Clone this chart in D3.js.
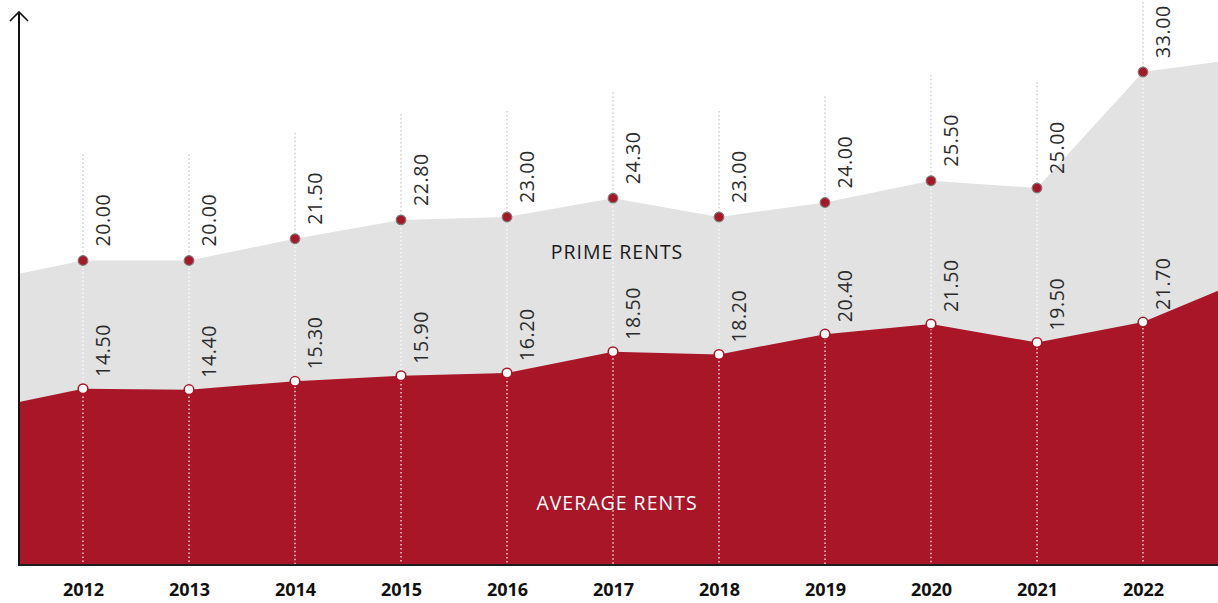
<!DOCTYPE html>
<html><head><meta charset="utf-8">
<script src="https://cdn.jsdelivr.net/npm/d3@7"></script>
<style>
html,body{margin:0;padding:0;background:#fff;}
svg{display:block;}
</style></head>
<body>
<svg id="chart" width="1218" height="603"></svg>
<script>
// ---- data ----
const years = [2012, 2013, 2014, 2015, 2016, 2017, 2018, 2019, 2020, 2021, 2022];
const primeRents = [20.00, 20.00, 21.50, 22.80, 23.00, 24.30, 23.00, 24.00, 25.50, 25.00, 33.00];
const averageRents = [14.50, 14.40, 15.30, 15.90, 16.20, 18.50, 18.20, 20.40, 21.50, 19.50, 21.70];
// values beyond the labelled years where the areas run off the plot edges (2011, 2023)
const edgeYears = [2011, 2023];
const primeEdges = [18.5, 34.0];
const averageEdges = [12.1, 26.5];
const seriesNames = ["PRIME RENTS", "AVERAGE RENTS"];

// ---- layout ----
const W = 1218, H = 603;
const axisX = 19, baseY = 565;
const svg = d3.select("#chart");

const x = d3.scaleLinear().domain([2012, 2022]).range([83, 1143]);
const yPrime = d3.scaleLinear().domain([20, 33]).range([260.5, 72]);
const yAvg = d3.scaleLinear().domain([14.5, 21.7]).range([388.7, 322.1]);

const primeAll = [{year: edgeYears[0], v: primeEdges[0]}]
  .concat(years.map((y, i) => ({year: y, v: primeRents[i]})))
  .concat([{year: edgeYears[1], v: primeEdges[1]}]);
const avgAll = [{year: edgeYears[0], v: averageEdges[0]}]
  .concat(years.map((y, i) => ({year: y, v: averageRents[i]})))
  .concat([{year: edgeYears[1], v: averageEdges[1]}]);

svg.append("defs").append("clipPath").attr("id", "plotClip")
  .append("rect").attr("x", axisX).attr("y", 0).attr("width", W - axisX).attr("height", baseY);

const plot = svg.append("g").attr("clip-path", "url(#plotClip)");

const primeArea = d3.area().x(d => x(d.year)).y0(baseY).y1(d => yPrime(d.v));
const avgArea = d3.area().x(d => x(d.year)).y0(baseY).y1(d => yAvg(d.v));

plot.append("path").datum(primeAll).attr("d", primeArea).attr("fill", "#e2e2e2");
plot.append("path").datum(avgAll).attr("d", avgArea).attr("fill", "#a91628");

// dotted guide lines
const data = years.map((y, i) => ({year: y, p: primeRents[i], a: averageRents[i]}));
const guides = plot.append("g");
guides.selectAll("line.top").data(data).join("line")
  .attr("x1", d => x(d.year)).attr("x2", d => x(d.year))
  .attr("y1", d => yPrime(d.p) - 106).attr("y2", d => yPrime(d.p))
  .attr("stroke", "#c4c4c4").attr("stroke-width", 1.2).attr("stroke-dasharray", "1.5,2.5");
guides.selectAll("line.bot").data(data).join("line")
  .attr("x1", d => x(d.year)).attr("x2", d => x(d.year))
  .attr("y1", d => yPrime(d.p)).attr("y2", baseY)
  .attr("stroke", "#ffffff").attr("stroke-width", 1.2).attr("stroke-dasharray", "1.5,2.5");

// points
svg.append("g").selectAll("circle").data(data).join("circle")
  .attr("cx", d => x(d.year)).attr("cy", d => yPrime(d.p)).attr("r", 4.8)
  .attr("fill", "#a91628").attr("stroke", "#7a7a7a").attr("stroke-width", 1.2);
svg.append("g").selectAll("circle").data(data).join("circle")
  .attr("cx", d => x(d.year)).attr("cy", d => yAvg(d.a)).attr("r", 4.8)
  .attr("fill", "#ffffff").attr("stroke", "#a91628").attr("stroke-width", 1.5);

// value labels
const fmt = d3.format(".2f");
const lab = svg.append("g").attr("font-family", "'Open Sans', sans-serif")
  .attr("font-size", 19.5).attr("fill", "#2b2b2b");
lab.selectAll("text.p").data(data).join("text")
  .attr("transform", d => `translate(${x(d.year) + 27},${yPrime(d.p) - 14}) rotate(-90)`)
  .attr("letter-spacing", 0.6)
  .text(d => fmt(d.p));
lab.selectAll("text.a").data(data).join("text")
  .attr("transform", d => `translate(${x(d.year) + 27},${yAvg(d.a) - 12}) rotate(-90)`)
  .attr("letter-spacing", 0.6)
  .text(d => fmt(d.a));

// series names
svg.append("text").attr("x", 617).attr("y", 259).attr("text-anchor", "middle")
  .attr("font-family", "'Open Sans', sans-serif").attr("font-size", 19.5)
  .attr("letter-spacing", 1).attr("fill", "#1a1a1a").text(seriesNames[0]);
svg.append("text").attr("x", 617).attr("y", 510).attr("text-anchor", "middle")
  .attr("font-family", "'Open Sans', sans-serif").attr("font-size", 19.5)
  .attr("letter-spacing", 1).attr("fill", "#ffffff").text(seriesNames[1]);

// x axis
const xAxis = d3.axisBottom(x).tickValues(years).tickFormat(d3.format("d")).tickSize(0).tickPadding(18);
const gx = svg.append("g").attr("transform", `translate(0,${baseY})`).call(xAxis);
gx.select(".domain").remove();
gx.selectAll("text").attr("font-family", "'Open Sans', sans-serif").attr("font-size", 18)
  .attr("font-weight", 700).attr("fill", "#111");
svg.append("line").attr("x1", axisX - 1).attr("x2", W).attr("y1", baseY).attr("y2", baseY)
  .attr("stroke", "#1e1e1e").attr("stroke-width", 2);

// y axis with arrow
svg.append("line").attr("x1", axisX).attr("x2", axisX).attr("y1", baseY + 1).attr("y2", 12)
  .attr("stroke", "#111").attr("stroke-width", 2);
svg.append("path").attr("d", `M${axisX - 9},${21} L${axisX},${12} L${axisX + 9},${21}`)
  .attr("fill", "none").attr("stroke", "#111").attr("stroke-width", 1.6);
</script>
</body></html>
